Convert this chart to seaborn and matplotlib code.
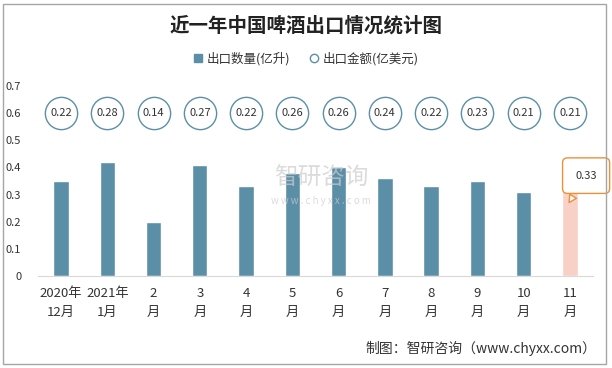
import numpy as np
import pandas as pd
import seaborn as sns
import matplotlib.pyplot as plt
from matplotlib.lines import Line2D
from matplotlib.patches import Rectangle

months = ["2020年\n12月", "2021年\n1月", "2\n月", "3\n月", "4\n月", "5\n月",
          "6\n月", "7\n月", "8\n月", "9\n月", "10\n月", "11\n月"]
volume = [0.35, 0.42, 0.20, 0.41, 0.33, 0.38, 0.40, 0.36, 0.33, 0.35, 0.31, 0.33]
value = [0.22, 0.28, 0.14, 0.27, 0.22, 0.26, 0.26, 0.24, 0.22, 0.23, 0.21, 0.21]
yticks = [0, 0.1, 0.2, 0.3, 0.4, 0.5, 0.6, 0.7]

BLUE = "#5b8fa8"
PINK = "#f8d0c6"
CIRCLE_Y = 0.6

sns.set_style("white")
plt.rcParams['font.family'] = ['Noto Sans CJK SC', 'DejaVu Sans']

df = pd.DataFrame({"month": months, "volume": volume})
colors = [BLUE] * (len(months) - 1) + [PINK]

fig = plt.figure(figsize=(6.12, 3.68), dpi=100)
ax = fig.add_axes([0.062, 0.25, 0.907, 0.516])

sns.barplot(data=df, x="month", y="volume", hue="month", palette=colors,
            legend=False, width=0.33, ax=ax, saturation=1)

# value circles for export value
xs = np.arange(len(months))
ax.scatter(xs, [CIRCLE_Y] * len(xs), s=540, facecolor="white",
           edgecolor=BLUE, linewidth=1.0, zorder=3, clip_on=False)
for x, v in zip(xs, value):
    ax.text(x, CIRCLE_Y, f"{v:.2f}", ha="center", va="center",
            fontsize=8, color="#333333", zorder=4)

# callout for the last bar
ax.annotate(f"{volume[-1]:.2f}", xy=(10.95, 0.262), xytext=(11.35, 0.37),
            ha="center", va="center", fontsize=8, color="#333333",
            bbox=dict(boxstyle="round,pad=1.15,rounding_size=0.45", fc="white",
                      ec="#e8923a", lw=1),
            arrowprops=dict(arrowstyle="wedge,tail_width=0.7", fc="white",
                            ec="#e8923a", lw=1),
            annotation_clip=False, zorder=5)

ax.set_xlim(-0.5, 11.5)
ax.set_ylim(0, 0.7)
ax.set_yticks(yticks)
ax.set_yticklabels(["0"] + [f"{t:.1f}" for t in yticks[1:]])
ax.set_xlabel("")
ax.set_ylabel("")
ax.tick_params(axis="y", labelsize=8, colors="#333333", length=0, pad=12)
ax.tick_params(axis="x", labelsize=9.5, colors="#333333", length=0, pad=8)
for lbl in ax.get_xticklabels():
    lbl.set_linespacing(1.6)
for s in ["top", "right", "left"]:
    ax.spines[s].set_visible(False)
ax.spines["bottom"].set_color("#d9d9d9")

# watermark
fig.text(0.525, 0.515, "智研咨询", fontsize=17, color="#cccccc", alpha=0.7,
         ha="center", va="center")
fig.text(0.525, 0.455, "w w w . c h y x x . c o m", fontsize=7, color="#cccccc",
         alpha=0.7, ha="center", va="center")

# title and legend
fig.text(0.5, 0.93, "近一年中国啤酒出口情况统计图", fontsize=14, fontweight="bold",
         color="#222222", ha="center", va="center")
handles = [Line2D([], [], marker="s", linestyle="", color=BLUE, markersize=6),
           Line2D([], [], marker="o", linestyle="", markerfacecolor="white",
                  markeredgecolor=BLUE, markersize=6)]
fig.legend(handles, ["出口数量(亿升)", "出口金额(亿美元)"], loc="center",
           bbox_to_anchor=(0.5, 0.84), ncol=2, frameon=False, fontsize=9,
           handlelength=0.8, handletextpad=0.3, columnspacing=1.5,
           labelcolor="#333333")

fig.text(0.975, 0.053, "制图：智研咨询（www.chyxx.com）", fontsize=10,
         color="#333333", ha="right", va="center")

fig.patches.append(Rectangle((0.005, 0.01), 0.985, 0.98, transform=fig.transFigure,
                             fill=False, edgecolor="#a6a6a6", linewidth=1))

fig.savefig("out.png", dpi=100)
